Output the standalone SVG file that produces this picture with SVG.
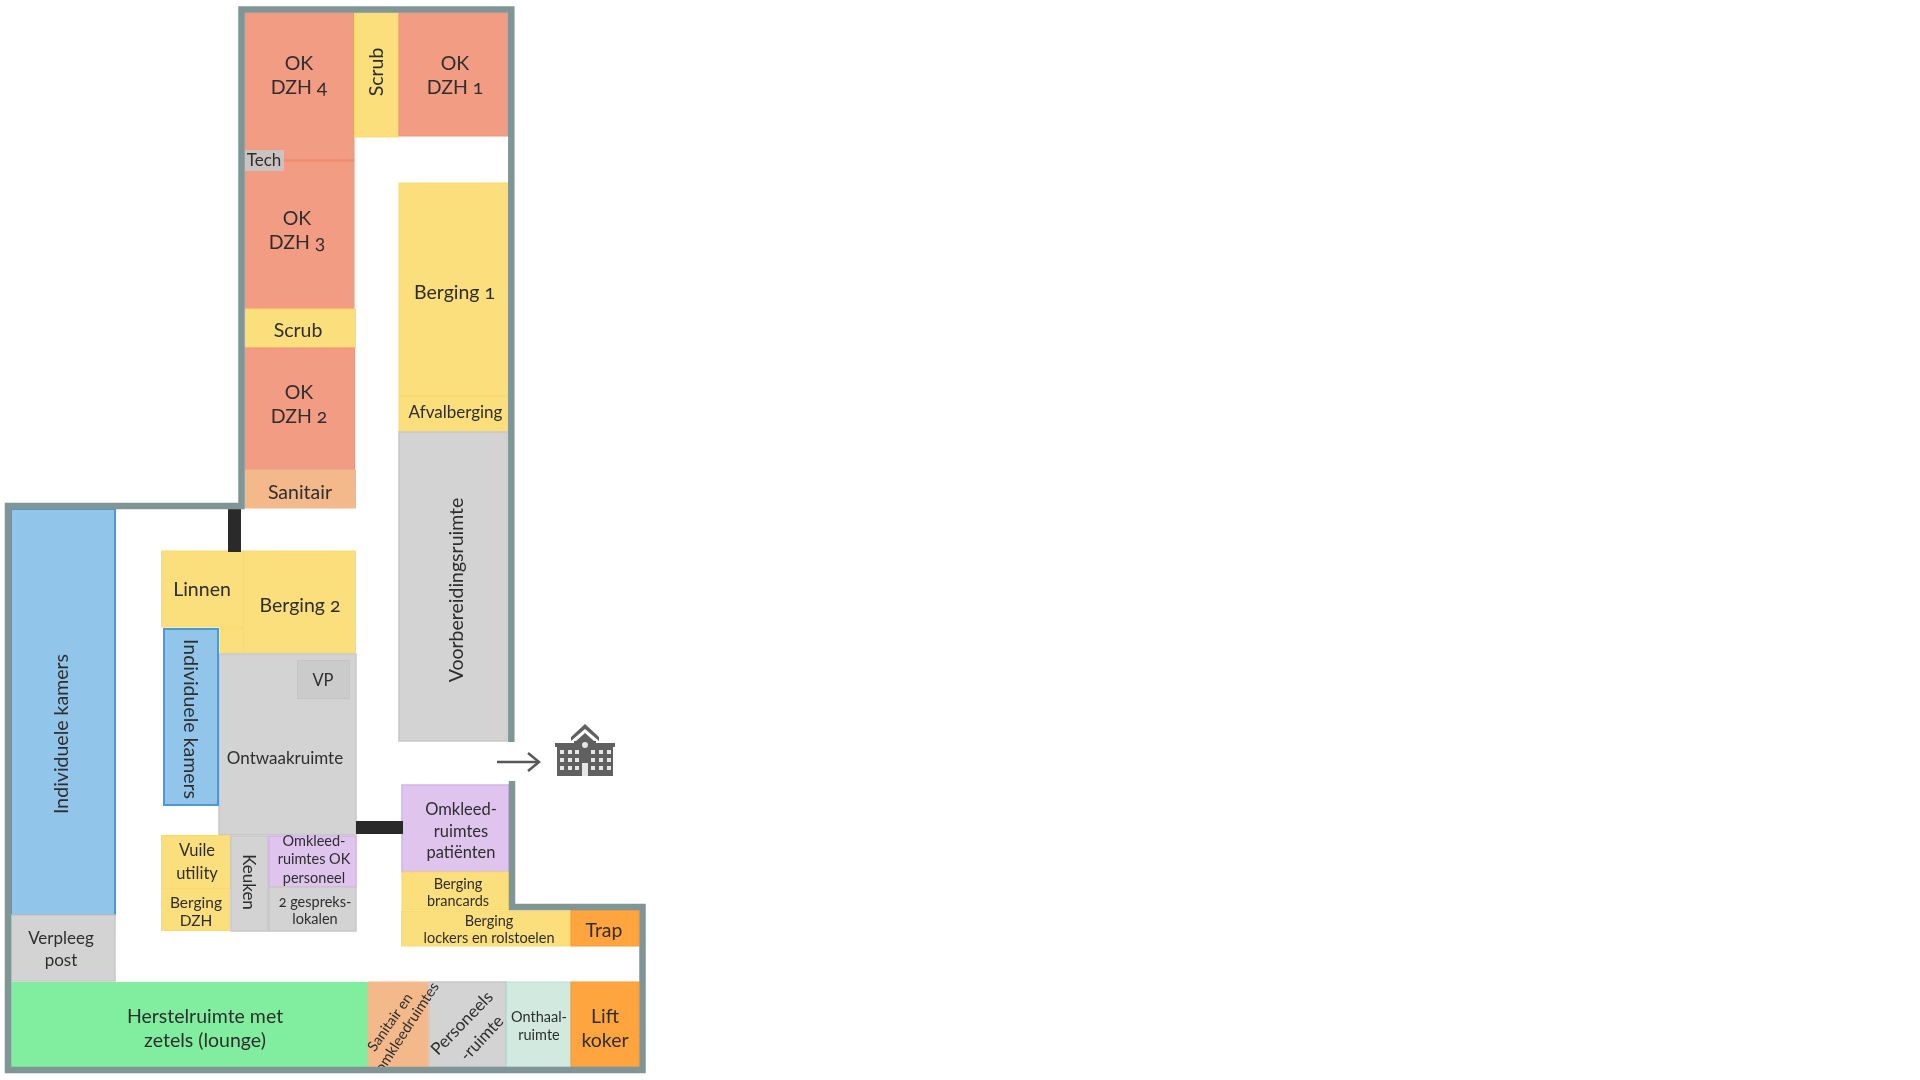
<svg xmlns="http://www.w3.org/2000/svg" width="1920" height="1080" viewBox="0 0 1920 1080">
<defs>
<style>
text{font-family:"Lato","Open Sans","Liberation Sans",sans-serif;fill:#2e2e2e;text-anchor:middle;font-variant-numeric:oldstyle-nums}
.f19{font-size:19.5px}.f17{font-size:17px}.f16{font-size:16.5px}.f15{font-size:15.5px}.f14{font-size:14.5px}
.ok{fill:#f29c83;stroke:#f2907a;stroke-width:1}
.y{fill:#fbdf7c;stroke:#fbd96a;stroke-width:1}
.g{fill:#d3d3d3;stroke:#c8c8c8;stroke-width:1.5}
.b{fill:#92c5ea;stroke:#4a9ad4;stroke-width:2}
.p{fill:#dfc5ee;stroke:#d2b2e6;stroke-width:1.5}
.s{fill:#f3b98a;stroke:#f3b98a}
.o{fill:#ffa540;stroke:#fb9a30}
.wall{fill:none;stroke:#7f9596;stroke-width:6.5;stroke-linejoin:miter}
.bar{fill:none;stroke:#2b2b2b;stroke-width:13}
</style>
<marker id="head" markerWidth="16" markerHeight="20" refX="13" refY="10" orient="auto" markerUnits="userSpaceOnUse"><path d="M2 1L13 10L2 19" fill="none" stroke="#595959" stroke-width="2.5"/></marker>
<filter id="soft" x="0" y="0" width="1920" height="1080" filterUnits="userSpaceOnUse"><feGaussianBlur stdDeviation="0.5"/></filter>
</defs>
<rect width="1920" height="1080" fill="#fff"/>
<g filter="url(#soft)">
<g id="ok4"><rect class="ok" x="245" y="13" width="109" height="147"/><text class="f19" x="299" y="70">OK</text><text class="f19" x="299" y="94">DZH 4</text></g>
<g id="ok3"><rect class="ok" x="245" y="160" width="109" height="149"/><path d="M284 160.500H354" stroke="#f08a70" stroke-width="2" fill="none"/><text class="f19" x="297" y="225">OK</text><text class="f19" x="297" y="249">DZH 3</text></g>
<g id="scrub1"><rect class="y" x="354.500" y="13" width="44" height="124"/><text class="f19" transform="translate(383,72) rotate(-90)">Scrub</text></g>
<g id="ok1"><rect class="ok" x="399" y="13" width="109" height="123"/><text class="f19" x="455" y="70">OK</text><text class="f19" x="455" y="94">DZH 1</text></g>
<g id="tech"><rect x="245" y="150" width="39" height="21" fill="#c9c3c1"/><text class="f17" x="264" y="166">Tech</text></g>
<g id="scrub2"><rect class="y" x="245" y="309" width="110.500" height="39"/><text class="f19" x="298" y="337">Scrub</text></g>
<g id="ok2"><rect class="ok" x="245" y="348" width="109.500" height="122"/><text class="f19" x="299" y="399">OK</text><text class="f19" x="299" y="423">DZH 2</text></g>
<g id="sanitair"><rect class="s" x="245" y="470" width="110.500" height="38"/><text class="f19" x="300" y="499">Sanitair</text></g>
<g id="berging1"><rect class="y" x="399" y="183" width="109" height="213"/><text class="f19" x="454.500" y="299">Berging 1</text></g>
<g id="afval"><rect class="y" x="399" y="396" width="109" height="36"/><text class="f17" x="455.500" y="418">Afvalberging</text></g>
<g id="voorbereiding"><rect class="g" x="399" y="432" width="108" height="309"/><text class="f19" transform="translate(463,590) rotate(-90)">Voorbereidingsruimte</text></g>
<g id="kamers1"><rect class="b" x="11" y="509" width="104" height="406"/><text class="f19" transform="translate(68,734) rotate(-90)">Individuele kamers</text></g>
<g id="linnen"><rect class="y" x="161.500" y="551" width="82" height="76"/><text class="f19" x="202" y="596">Linnen</text></g>
<g id="berging2"><path class="y" d="M243.500 551H355.500V653H220V628H243.500Z"/><path d="M220 628H243.500V653" fill="none" stroke="#fbd96a"/><text class="f19" x="300" y="612">Berging 2</text></g>
<g id="ontwaak"><rect class="g" x="219" y="654" width="137" height="180.500"/><text class="f17" x="285" y="764">Ontwaakruimte</text></g>
<g id="vp"><rect x="297.500" y="660.500" width="52" height="38" fill="#cbcbcb" stroke="#c4c4c4"/><text class="f16" x="323" y="686">VP</text></g>
<g id="kamers2"><rect class="b" x="164" y="629" width="54" height="176"/><text class="f19" transform="translate(184,719) rotate(90)">Individuele kamers</text></g>
<g id="vuile"><rect class="y" x="161.500" y="835.500" width="69" height="53"/><text class="f16" x="197" y="856">Vuile</text><text class="f16" x="197" y="879">utility</text></g>
<g id="bergingdzh"><rect class="y" x="161.500" y="888.500" width="68" height="42"/><text class="f15" x="196" y="908">Berging</text><text class="f15" x="196" y="926">DZH</text></g>
<g id="keuken"><rect class="g" x="231" y="836" width="37" height="95"/><text class="f17" transform="translate(243,882) rotate(90)">Keuken</text></g>
<g id="omkleedok"><rect class="p" x="269" y="836" width="87" height="51"/><text class="f14" x="314" y="846">Omkleed-</text><text class="f14" x="314" y="864">ruimtes OK</text><text class="f14" x="314" y="883">personeel</text></g>
<g id="gesprek"><rect class="g" x="269" y="887" width="87" height="44"/><text class="f14" x="315" y="907">2 gespreks-</text><text class="f14" x="315" y="924">lokalen</text></g>
<g id="verpleeg"><rect class="g" x="11" y="915" width="104" height="66"/><text class="f17" x="61" y="944">Verpleeg</text><text class="f17" x="61" y="966">post</text></g>
<g id="herstel"><rect x="11" y="982" width="357" height="85" fill="#80ee9e"/><text class="f19" x="205" y="1023">Herstelruimte met</text><text class="f19" x="205" y="1047">zetels (lounge)</text></g>
<g id="personeel"><rect class="g" x="429" y="982" width="77" height="85"/><text font-size="17" transform="translate(466,1027) rotate(-46)">Personeels</text><text font-size="17" transform="translate(486,1042) rotate(-47)">-ruimte</text></g>
<g id="sanitair2"><rect class="s" x="368" y="982" width="60" height="85"/><text font-size="14.5" transform="translate(394,1025) rotate(-55)">Sanitair en</text><text font-size="14.800" transform="translate(411,1030) rotate(-57)">omkleedruimtes</text></g>
<g id="onthaal"><rect x="506.500" y="982" width="64" height="85" fill="#d2e9e0" stroke="#bcdcd2"/><text class="f14" x="539" y="1022">Onthaal-</text><text class="f14" x="539" y="1040">ruimte</text></g>
<g id="lift"><rect class="o" x="571" y="982" width="68" height="85"/><text class="f19" x="605" y="1023">Lift</text><text class="f19" x="605" y="1047">koker</text></g>
<g id="omkleedpat"><rect class="p" x="402" y="785" width="107" height="87"/><text class="f16" x="461" y="815">Omkleed-</text><text class="f16" x="461" y="837">ruimtes</text><text class="f16" x="461" y="858">patiënten</text></g>
<g id="brancards"><rect class="y" x="402" y="872" width="107" height="38"/><text class="f14" x="458" y="889">Berging</text><text class="f14" x="458" y="906">brancards</text></g>
<g id="lockers"><rect class="y" x="401.500" y="911" width="169.500" height="35"/><text class="f14" x="489" y="926">Berging</text><text class="f14" x="489" y="943">lockers en rolstoelen</text></g>
<g id="trap"><rect class="o" x="571" y="910" width="68" height="36"/><text class="f19" x="604" y="937">Trap</text></g>
<g id="building" fill="#616161">
<path d="M585 724L571 737V741L585 729L599 741V737Z"/>
<path d="M585 733L576 741H574V743H555V747H557V776H613V747H615V743H596V741H594Z"/>
<g fill="#e6e6e6"><rect x="560" y="750" width="4" height="4"/><rect x="568" y="750" width="4" height="4"/><rect x="575" y="750" width="4" height="4"/><rect x="591" y="750" width="4" height="4"/><rect x="599" y="750" width="4" height="4"/><rect x="607" y="750" width="4" height="4"/><rect x="560" y="758" width="4" height="4"/><rect x="568" y="758" width="4" height="4"/><rect x="575" y="758" width="4" height="4"/><rect x="591" y="758" width="4" height="4"/><rect x="599" y="758" width="4" height="4"/><rect x="607" y="758" width="4" height="4"/><rect x="560" y="766" width="4" height="4"/><rect x="568" y="766" width="4" height="4"/><rect x="575" y="766" width="4" height="4"/><rect x="591" y="766" width="4" height="4"/><rect x="599" y="766" width="4" height="4"/><rect x="607" y="766" width="4" height="4"/><rect x="582" y="763" width="6" height="13"/><circle cx="585" cy="745" r="3"/></g>
</g>
<g id="connectors">
<path class="bar" d="M234.500 509V552"/>
<path class="bar" d="M356 827.500H403"/>
<path d="M497 762H539" fill="none" stroke="#595959" stroke-width="2.500" marker-end="url(#head)"/>
</g>
<g id="walls">
<path class="wall" d="M511.300 742V9.500H241.500V506H8V1070H642.500V907H512V781"/>
</g>
</g>
</svg>
